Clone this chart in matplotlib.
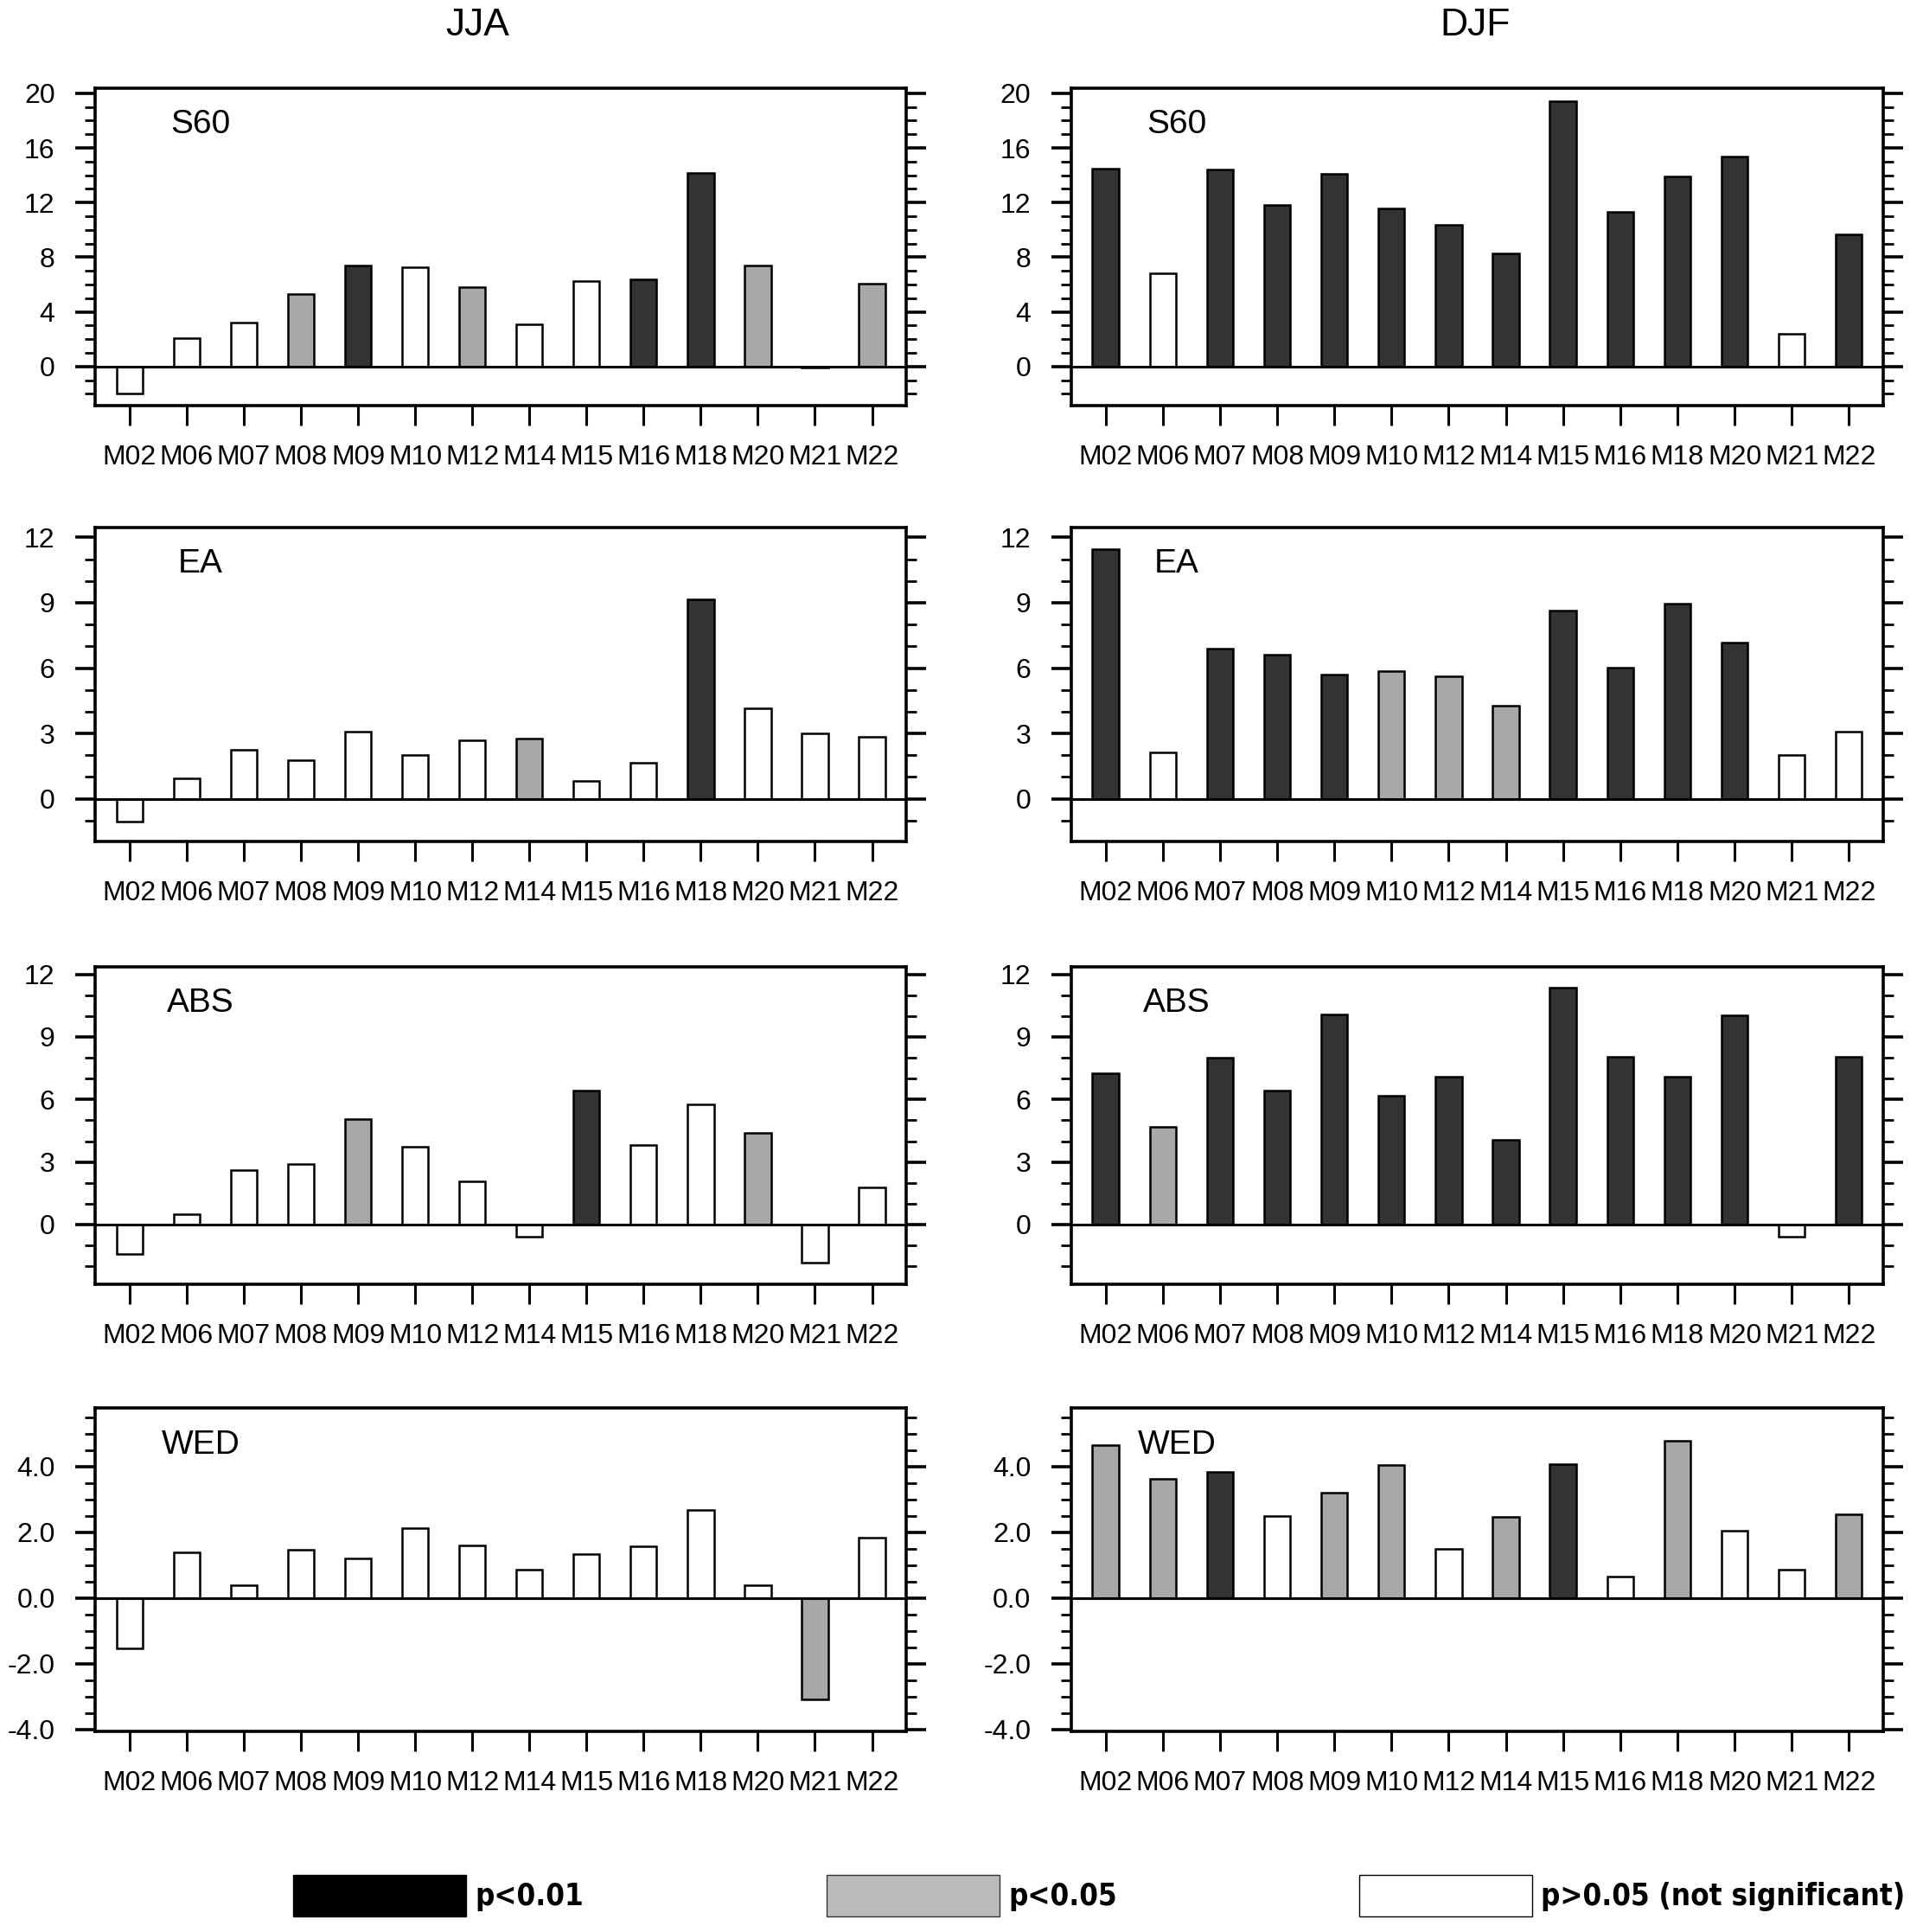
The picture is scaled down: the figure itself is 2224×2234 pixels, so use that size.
import numpy as np
import matplotlib
matplotlib.use("Agg")
import matplotlib.pyplot as plt
from matplotlib import font_manager
from matplotlib.patches import Patch
from matplotlib.ticker import MultipleLocator, FormatStrFormatter

models = ["M02", "M06", "M07", "M08", "M09", "M10", "M12", "M14",
          "M15", "M16", "M18", "M20", "M21", "M22"]

# significance: 2 = p<0.01, 1 = p<0.05, 0 = not significant
jja_s60 = [-2.0, 2.1, 3.2, 5.3, 7.4, 7.3, 5.8, 3.1, 6.25, 6.4, 14.2, 7.4, -0.1, 6.1]
jja_s60_sig = [0, 0, 0, 1, 2, 0, 1, 0, 0, 2, 2, 1, 2, 1]
djf_s60 = [14.5, 6.8, 14.4, 11.8, 14.1, 11.6, 10.4, 8.3, 19.4, 11.3, 13.9, 15.4, 2.4, 9.7]
djf_s60_sig = [2, 0, 2, 2, 2, 2, 2, 2, 2, 2, 2, 2, 0, 2]

jja_ea = [-1.05, 0.93, 2.26, 1.76, 3.07, 2.0, 2.68, 2.78, 0.82, 1.67, 9.16, 4.16, 3.0, 2.85]
jja_ea_sig = [0, 0, 0, 0, 0, 0, 0, 1, 0, 0, 2, 0, 0, 0]
djf_ea = [11.48, 2.13, 6.9, 6.6, 5.7, 5.86, 5.63, 4.29, 8.63, 6.03, 8.95, 7.16, 2.0, 3.08]
djf_ea_sig = [2, 0, 2, 2, 2, 1, 1, 1, 2, 2, 2, 2, 0, 0]

jja_abs = [-1.41, 0.5, 2.6, 2.9, 5.05, 3.73, 2.08, -0.59, 6.42, 3.8, 5.77, 4.41, -1.82, 1.78]
jja_abs_sig = [0, 0, 0, 0, 1, 0, 0, 0, 2, 0, 0, 1, 0, 0]
djf_abs = [7.24, 4.68, 8.0, 6.42, 10.07, 6.17, 7.08, 4.06, 11.34, 8.06, 7.08, 10.03, -0.59, 8.03]
djf_abs_sig = [2, 1, 2, 2, 2, 2, 2, 2, 2, 2, 2, 2, 0, 2]

jja_wed = [-1.53, 1.4, 0.4, 1.48, 1.21, 2.14, 1.61, 0.87, 1.34, 1.58, 2.69, 0.4, -3.08, 1.85]
jja_wed_sig = [0, 0, 0, 0, 0, 0, 0, 0, 0, 0, 0, 0, 1, 0]
djf_wed = [4.65, 3.63, 3.85, 2.49, 3.21, 4.04, 1.49, 2.47, 4.09, 0.67, 4.78, 2.04, 0.87, 2.56]
djf_wed_sig = [1, 1, 2, 0, 1, 1, 0, 1, 2, 0, 1, 0, 0, 1]

regions = ["S60", "EA", "ABS", "WED"]
ylims = [(-2.85, 20.38), (-1.96, 12.46), (-2.86, 12.36), (-4.05, 5.79)]
majors = [4, 3, 3, 2]
minors = [1, 1, 1, 0.5]
yfmt = ["%d", "%d", "%d", "%.1f"]

panels = [
    [(jja_s60, jja_s60_sig), (djf_s60, djf_s60_sig)],
    [(jja_ea, jja_ea_sig), (djf_ea, djf_ea_sig)],
    [(jja_abs, jja_abs_sig), (djf_abs, djf_abs_sig)],
    [(jja_wed, jja_wed_sig), (djf_wed, djf_wed_sig)],
]

sig_colors = {2: "#333333", 1: "#a8a8a8", 0: "white"}

available = {f.name for f in font_manager.fontManager.ttflist}
narrow = "Liberation Sans Narrow" if "Liberation Sans Narrow" in available else "Liberation Sans"
plt.rcParams["font.family"] = ["Liberation Sans", "DejaVu Sans"]

fig = plt.figure(figsize=(22.24, 22.34), dpi=100)

col_left = [0.0495, 0.5571]
col_width = [0.4218, 0.4222]
row_bottom = [0.7901, 0.5645, 0.3353, 0.1039]
row_height = [0.1643, 0.1625, 0.1643, 0.1674]

x = np.arange(len(models))
for r in range(4):
    for c in range(2):
        vals, sig = panels[r][c]
        ax = fig.add_axes([col_left[c], row_bottom[r], col_width[c], row_height[r]])
        ax.bar(x, vals, width=0.46, color=[sig_colors[s] for s in sig],
               edgecolor="black", linewidth=1.8, zorder=2)
        ax.axhline(0, color="black", lw=2.2, zorder=3)
        ax.set_xlim(-0.6, len(models) - 0.4)
        ax.set_ylim(*ylims[r])
        ax.yaxis.set_major_locator(MultipleLocator(majors[r]))
        ax.yaxis.set_minor_locator(MultipleLocator(minors[r]))
        ax.yaxis.set_major_formatter(FormatStrFormatter(yfmt[r]))
        ax.set_xticks(x)
        ax.set_xticklabels(models, fontfamily=narrow, fontsize=23)
        for lab in ax.get_yticklabels():
            lab.set_fontfamily(narrow)
            lab.set_fontsize(23)
        ax.tick_params(axis="y", which="both", direction="out", left=True, right=True, pad=17)
        ax.tick_params(axis="y", which="major", length=16.5, width=2.6)
        ax.tick_params(axis="y", which="minor", length=8.5, width=2.0)
        ax.tick_params(axis="x", direction="out", length=16.5, width=2.2, pad=16, top=False)
        for sp in ax.spines.values():
            sp.set_linewidth(2.6)
        ax.text(0.13, 0.885, regions[r], transform=ax.transAxes, ha="center",
                va="center", fontsize=28)

fig.text(0.2482, 0.987, "JJA", ha="center", va="center", fontsize=32)
fig.text(0.767, 0.987, "DJF", ha="center", va="center", fontsize=32)

handles = [Patch(facecolor="black", edgecolor="black"),
           Patch(facecolor="#bbbbbb", edgecolor="#333333"),
           Patch(facecolor="white", edgecolor="black")]
labels = ["p<0.01", "p<0.05", "p>0.05 (not significant)"]
fig.legend(handles, labels, ncol=3, frameon=False, loc="center",
           bbox_to_anchor=(0.5717, 0.0188), handlelength=5.76, handleheight=1.73,
           handletextpad=0.3, columnspacing=8.07,
           prop=font_manager.FontProperties(family="DejaVu Sans", weight="bold",
                                            stretch="condensed", size=25))

fig.savefig("out.png", dpi=100, facecolor="white")
